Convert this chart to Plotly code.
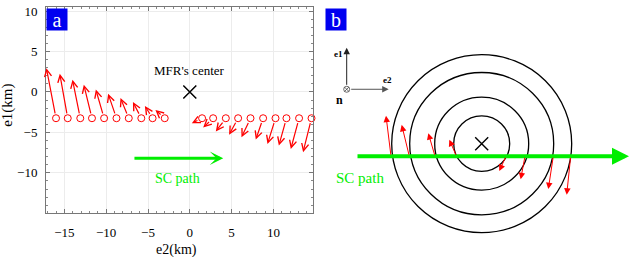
import plotly.graph_objects as go

W, H = 630, 257
FONT = "Liberation Serif, Times New Roman, serif"

# ---------------- Panel a data (km) ----------------
a_xticks = [-15, -10, -5, 0, 5, 10]
a_yticks = [-10, -5, 0, 5, 10]
a_y_base = -3.25
a_x_left = [-16.0, -14.6, -13.1, -11.7, -10.25, -8.77, -7.3, -5.8, -4.45, -3.0]
a_dx_left = [-1.15, -0.95, -0.93, -0.98, -0.99, -1.0, -0.99, -1.0, -0.92, -1.11]
a_dy_left = [6.19, 5.49, 4.76, 4.15, 3.54, 3.02, 2.49, 2.0, 1.52, 1.03]
a_x_right = [1.47, 2.79, 4.31, 5.78, 7.26, 8.77, 10.25, 11.56, 13.07, 14.56]
a_dx_right = [-1.23, -1.19, -1.2, -1.08, -1.08, -0.88, -0.96, -0.91, -0.99, -1.01]
a_dy_right = [-0.62, -1.14, -1.63, -2.03, -2.36, -2.64, -3.18, -3.38, -3.79, -4.19]
a_center = (0, 0)
a_path_x = [-6.8, 4.0]
a_path_y = -8.2

# ---------------- Panel b data (schematic units) ----------------
b_center = (481.7, 142.3)
b_radii = [28, 47, 72, 90]
b_path_x = [356, 629]
b_path_y = 155
b_base_x = [391, 409.3, 435, 456.5, 506, 525, 553.3, 570.7]
b_tip_x = [386, 401.7, 428.3, 449.3, 499.3, 520.7, 548.3, 566.7]
b_tip_y = [114, 123.3, 131.7, 138.3, 170, 178.3, 188.3, 194]
b_triad_origin = (346.7, 87.3)
b_triad_len = 42

fig = go.Figure()

# ---------- Panel a ----------
xs = a_x_left + a_x_right
fig.add_trace(go.Scatter(
    x=xs, y=[a_y_base] * len(xs), mode="markers",
    marker=dict(symbol="circle-open", size=7, color="red", line=dict(width=1)),
    xaxis="x", yaxis="y", cliponaxis=False, showlegend=False, hoverinfo="skip"))
fig.add_trace(go.Scatter(
    x=[a_center[0]], y=[a_center[1]], mode="markers",
    marker=dict(symbol="x-thin-open", size=13, color="black", line=dict(width=1.5, color="black")),
    xaxis="x", yaxis="y", showlegend=False, hoverinfo="skip"))

annotations = []
for x0, dx, dy in zip(a_x_left + a_x_right, a_dx_left + a_dx_right, a_dy_left + a_dy_right):
    annotations.append(dict(
        x=x0 + dx, y=a_y_base + dy, ax=x0, ay=a_y_base,
        xref="x", yref="y", axref="x", ayref="y",
        text="", showarrow=True, arrowhead=5, arrowsize=1.15, arrowwidth=1.2,
        arrowcolor="red", standoff=0, startstandoff=3.5))
annotations.append(dict(
    x=a_path_x[1], y=a_path_y, ax=a_path_x[0], ay=a_path_y,
    xref="x", yref="y", axref="x", ayref="y",
    text="", showarrow=True, arrowhead=3, arrowsize=0.75, arrowwidth=3,
    arrowcolor="#00ee00", standoff=0))
annotations.append(dict(x=-1.5, y=-10.7, xref="x", yref="y", text="SC path",
                        showarrow=False, font=dict(family=FONT, size=14, color="#00ee00")))
annotations.append(dict(x=0, y=2.6, xref="x", yref="y", text="MFR's center",
                        showarrow=False, font=dict(family=FONT, size=13, color="black")))
# axis titles
annotations.append(dict(x=176 / W, y=1 - 250 / H, xref="paper", yref="paper", text="e2(km)",
                        xanchor="center", yanchor="middle",
                        showarrow=False, font=dict(family=FONT, size=14, color="black")))
annotations.append(dict(x=8 / W, y=1 - 104 / H, xref="paper", yref="paper", text="e1(km)",
                        xanchor="center", yanchor="middle",
                        textangle=-90, showarrow=False, font=dict(family=FONT, size=15, color="black")))
# panel labels
for lbl, px, py in [("a", 46, 5), ("b", 325, 5)]:
    annotations.append(dict(x=px / W, y=1 - py / H, xref="paper", yref="paper",
                            xanchor="left", yanchor="top", text=lbl, showarrow=False,
                            bgcolor="#0000f0", width=20, height=21, borderpad=0,
                            font=dict(family=FONT, size=20, color="white")))

# ---------- Panel b ----------
shapes = []
for r in b_radii:
    shapes.append(dict(type="circle", xref="x2", yref="y2",
                       x0=b_center[0] - r, x1=b_center[0] + r,
                       y0=b_center[1] - r, y1=b_center[1] + r,
                       line=dict(color="black", width=1.3)))

fig.add_trace(go.Scatter(
    x=[b_center[0]], y=[b_center[1]], mode="markers",
    marker=dict(symbol="x-thin-open", size=13, color="black", line=dict(width=1.4, color="black")),
    xaxis="x2", yaxis="y2", showlegend=False, hoverinfo="skip"))
fig.add_trace(go.Scatter(
    x=[b_triad_origin[0]], y=[b_triad_origin[1]], mode="markers",
    marker=dict(symbol="circle-x-open", size=6, color="#444", line=dict(width=0.8, color="#444")),
    xaxis="x2", yaxis="y2", showlegend=False, hoverinfo="skip"))

annotations.append(dict(
    x=b_path_x[1], y=b_path_y, ax=b_path_x[0], ay=b_path_y,
    xref="x2", yref="y2", axref="x2", ayref="y2",
    text="", showarrow=True, arrowhead=2, arrowsize=0.85, arrowwidth=4,
    arrowcolor="#00ee00", standoff=0))
for bx, tx, ty in zip(b_base_x, b_tip_x, b_tip_y):
    annotations.append(dict(
        x=tx, y=ty, ax=bx, ay=b_path_y,
        xref="x2", yref="y2", axref="x2", ayref="y2",
        text="", showarrow=True, arrowhead=2, arrowsize=1.3, arrowwidth=1,
        arrowcolor="red", standoff=0))
ox, oy = b_triad_origin
annotations.append(dict(x=ox, y=oy - b_triad_len, ax=ox, ay=oy - 3,
                        xref="x2", yref="y2", axref="x2", ayref="y2",
                        text="", showarrow=True, arrowhead=2, arrowsize=1.3, arrowwidth=1,
                        arrowcolor="#222", standoff=0))
annotations.append(dict(x=ox + b_triad_len, y=oy, ax=ox + 3, ay=oy,
                        xref="x2", yref="y2", axref="x2", ayref="y2",
                        text="", showarrow=True, arrowhead=2, arrowsize=1.3, arrowwidth=1,
                        arrowcolor="#555", standoff=0))
for txt, tx, ty, sz in [("e1", 338.5, 51.7, 9), ("e2", 387.7, 77.5, 9), ("n", 339, 98.5, 12)]:
    annotations.append(dict(x=tx, y=ty, xref="x2", yref="y2", text="<b>%s</b>" % txt,
                            showarrow=False, font=dict(family=FONT, size=sz, color="black")))
annotations.append(dict(x=360, y=177.5, xref="x2", yref="y2", text="SC path",
                        showarrow=False, font=dict(family=FONT, size=15, color="#00ee00")))

axis_common = dict(showline=True, linecolor="#777", linewidth=1, mirror="allticks",
                   ticks="inside", ticklen=4, tickcolor="#777",
                   showgrid=True, gridcolor="#ececec", gridwidth=1, zeroline=False,
                   tickfont=dict(family=FONT, size=13, color="black"),
                   minor=dict(dtick=1, ticks="inside", ticklen=2, tickcolor="#888", showgrid=False))

fig.update_layout(
    width=W, height=H, margin=dict(l=0, r=0, t=0, b=0),
    font=dict(family=FONT, color="black"),
    paper_bgcolor="white", plot_bgcolor="white",
    xaxis=dict(domain=[46 / W, 312.7 / W], range=[-17.2, 14.7], tickvals=a_xticks,
               anchor="y", ticklabelstandoff=8, **axis_common),
    yaxis=dict(domain=[1 - 212 / H, 1 - 4 / H], range=[-14.9, 10.5], tickvals=a_yticks,
               anchor="x", ticklabelstandoff=5, **axis_common),
    xaxis2=dict(domain=[320 / W, 1], range=[320, 630], visible=False, anchor="y2"),
    yaxis2=dict(domain=[0, 1], range=[257, 0], visible=False, anchor="x2"),
    shapes=shapes, annotations=annotations,
)

fig.write_html("out.html", config={"displayModeBar": False},
               post_script="document.body.style.margin='0';document.body.style.overflow='hidden';")
